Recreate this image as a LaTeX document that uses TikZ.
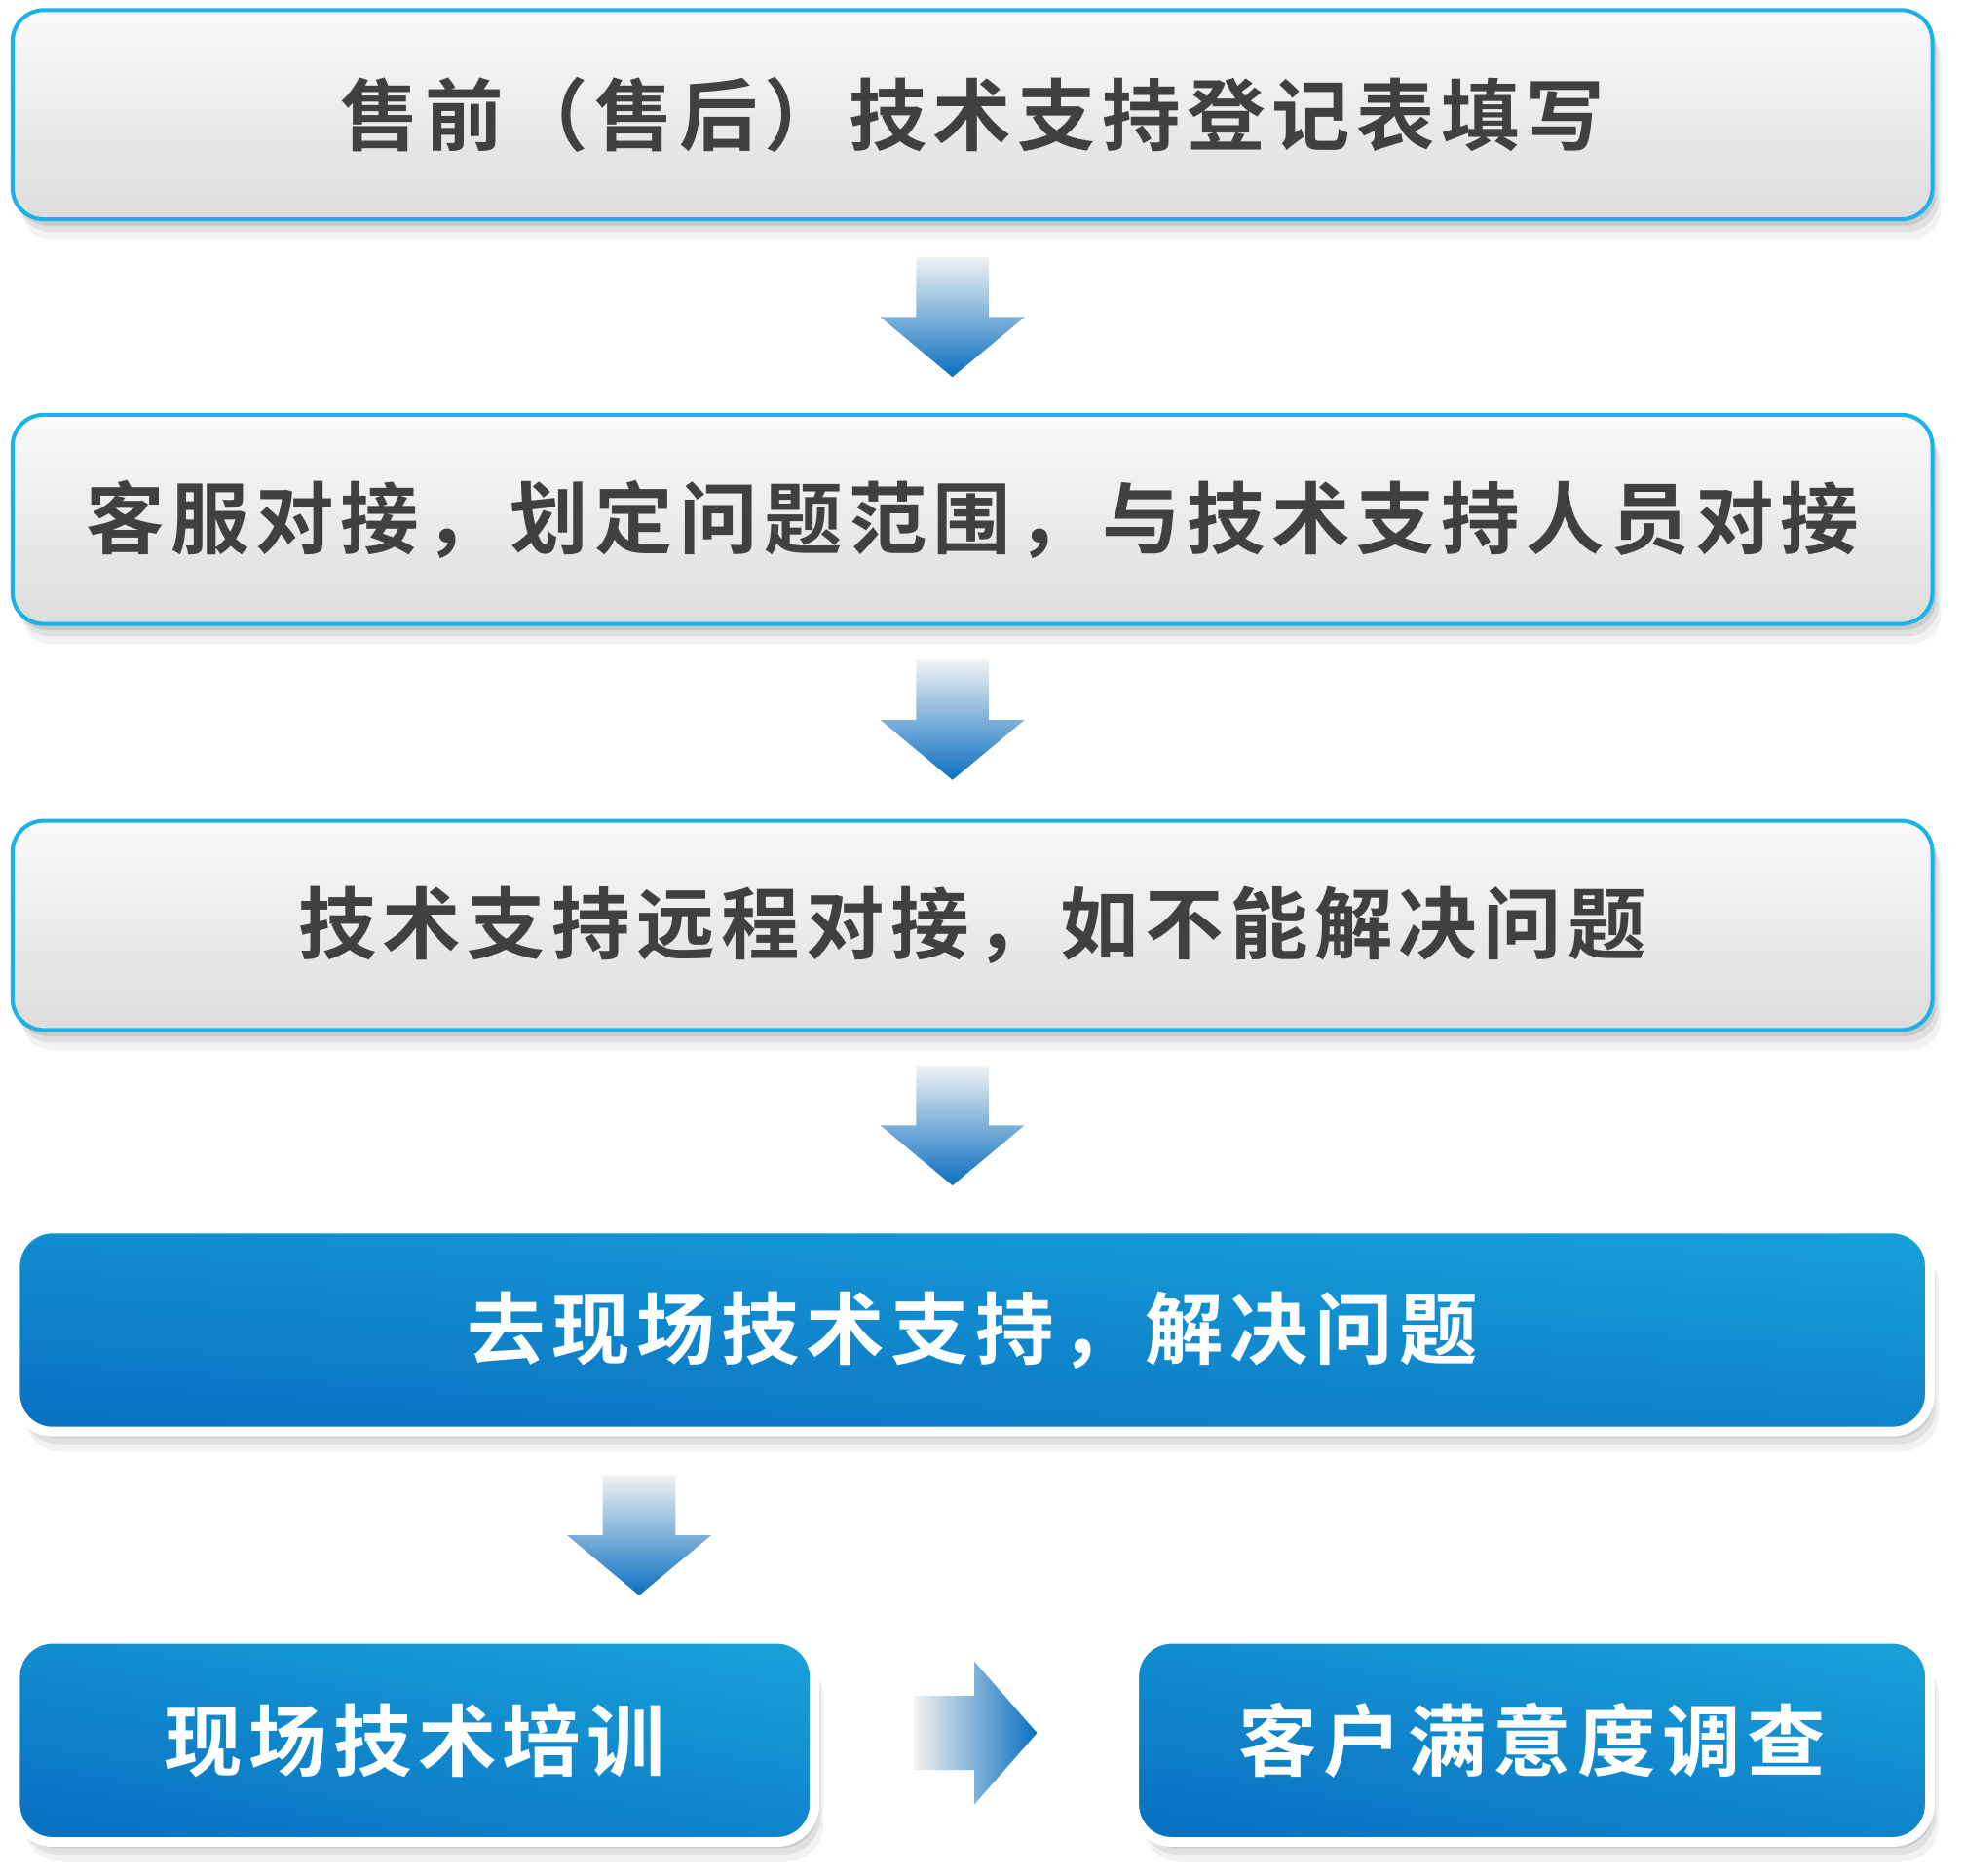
\documentclass[tikz,border=0pt]{standalone}
\usepackage{fontspec}
\newfontfamily\cjk{Noto Sans CJK SC}[BoldFont={Noto Sans CJK SC Bold},LetterSpace=8]
\usetikzlibrary{shadows,calc}
\definecolor{framecyan}{HTML}{1AB2EA}
\definecolor{textgray}{HTML}{404040}
\definecolor{boxtop}{HTML}{FAFAFA}
\definecolor{boxbot}{HTML}{DCDCDC}
\definecolor{bluedark}{HTML}{0A72C2}
\definecolor{bluelight}{HTML}{179FD8}
\definecolor{arrowtop}{HTML}{F2F2F2}
\definecolor{arrowbot}{HTML}{0A6FC0}
\newcommand{\downblock}[1]{%
  \shade[top color=arrowtop, bottom color=arrowbot]
    ($#1+(-.29,.48)$) -- ($#1+(.29,.48)$) -- ($#1+(.29,0)$) -- ($#1+(.575,0)$)
    -- ($#1+(0,-.48)$) -- ($#1+(-.575,0)$) -- ($#1+(-.29,0)$) -- cycle;}
\newcommand{\rightblock}[1]{%
  \shade[left color=arrowtop, right color=arrowbot]
    ($#1+(-.48,.295)$) -- ($#1+(0,.295)$) -- ($#1+(0,.57)$) -- ($#1+(.5,0)$)
    -- ($#1+(0,-.57)$) -- ($#1+(0,-.295)$) -- ($#1+(-.48,-.295)$) -- cycle;}
\begin{document}
\begin{tikzpicture}[
    softshadow/.style={drop shadow={shadow xshift=.03, shadow yshift=-.05, opacity=.10, fill=black},
      drop shadow={shadow xshift=.05, shadow yshift=-.10, opacity=.07, fill=black},
      drop shadow={shadow xshift=.07, shadow yshift=-.16, opacity=.05, fill=black}},
    graybox/.style={draw=framecyan, line width=.9pt, rounded corners=.25cm,
      top color=boxtop, bottom color=boxbot, minimum height=1.67cm, text=textgray,
      font=\cjk\bfseries\fontsize{17.8}{20}\selectfont, softshadow},
    bluebox/.style={draw=white, line width=2.2pt, rounded corners=.3cm,
      top color=bluelight, bottom color=bluedark, shading angle=-10, minimum height=1.62cm, text=white,
      font=\cjk\bfseries\fontsize{17.8}{20}\selectfont, softshadow}]
  \useasboundingbox (0,0) rectangle (15.68,-14.97);

  \node[graybox, minimum width=15.32cm] (reg) at (7.76,-.915) {售前（售后）技术支持登记表填写};
  \node[graybox, minimum width=15.32cm] (dock) at (7.76,-4.145) {客服对接，划定问题范围，与技术支持人员对接};
  \node[graybox, minimum width=15.32cm] (remote) at (7.76,-7.385) {技术支持远程对接，如不能解决问题};
  \node[bluebox, minimum width=15.28cm, shading angle=-4] (onsite) at (7.76,-10.615) {去现场技术支持，解决问题};
  \node[bluebox, minimum width=6.38cm] (train) at (3.31,-13.89) {现场技术培训};
  \node[bluebox, minimum width=6.35cm] (survey) at (12.225,-13.89) {客户满意度调查};

  \coordinate (a1) at ($(reg.south)!.5!(dock.north)+(-.16,0)$);
  \coordinate (a2) at ($(dock.south)!.5!(remote.north)+(-.16,.02)$);
  \coordinate (a3) at ($(remote.south)!.5!(onsite.north)+(-.16,.02)$);
  \coordinate (a4) at ($(onsite.south -| 5.10,0)!.5!(train.north -| 5.10,0)$);
  \coordinate (a5) at ($(train.east)!.5!(survey.west)+(0,.06)$);
  \downblock{(a1)}
  \downblock{(a2)}
  \downblock{(a3)}
  \downblock{(a4)}
  \rightblock{(a5)}
\end{tikzpicture}
\end{document}
